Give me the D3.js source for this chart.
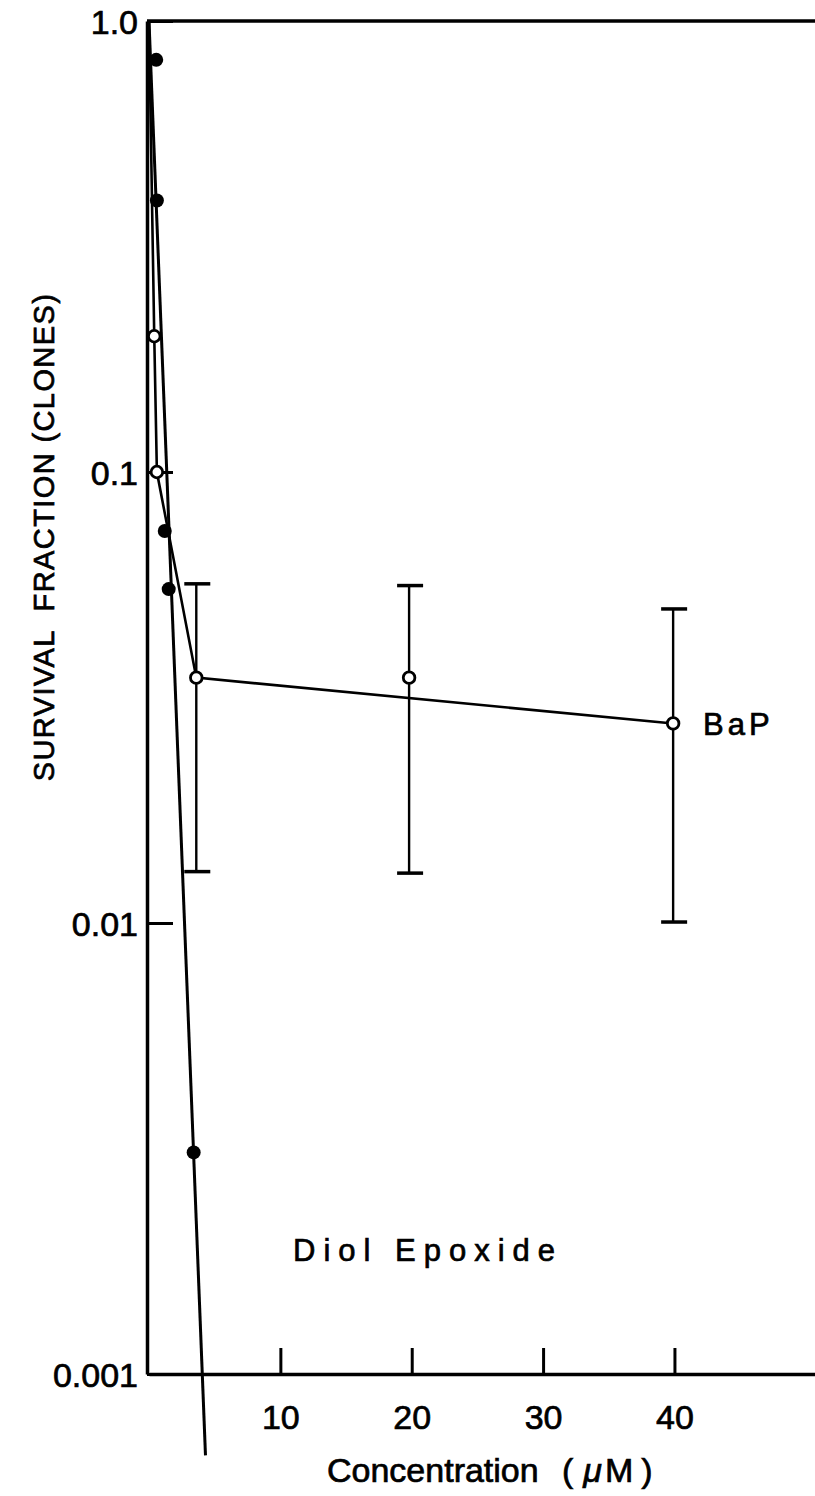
<!DOCTYPE html>
<html>
<head>
<meta charset="utf-8">
<script src="https://cdn.jsdelivr.net/npm/d3@7"></script>
<style>
  body { margin: 0; background: #fff; }
  text { font-family: "Liberation Sans", Arial, sans-serif; fill: #000; stroke: #000; stroke-width: 0.7; }
</style>
</head>
<body>
<div id="container"></div>
<script>
/* CONSTANTS AND GLOBALS */
const width = 815,
  height = 1496;

// Diol epoxide (filled circles)
const diolConc = [0.55, 0.6, 1.2, 1.5, 3.4];
const diolSurv = [0.82, 0.40, 0.074, 0.055, 0.0031];
// fitted line for diol epoxide (runs below the axis)
const diolFitConc = [0, 4.3];
const diolFitSurv = [1.0, 0.00066];

// BaP (open circles) with error bars
const bapConc = [0.4, 0.6, 3.6, 19.8, 39.9];
const bapSurv = [0.20, 0.10, 0.035, 0.035, 0.0277];
const bapHi = [null, null, 0.0565, 0.056, 0.0497];
const bapLo = [null, null, 0.013, 0.0129, 0.01005];
// connecting line (the 20 uM point sits off the line)
const bapLineConc = [0, 0.4, 0.6, 3.6, 39.9];
const bapLineSurv = [1.0, 0.20, 0.10, 0.035, 0.0277];

const xTicks = [10, 20, 30, 40];
const yTicks = [0.001, 0.01, 0.1, 1];
const yTickLabels = ["0.001", "0.01", "0.1", "1.0"];

/* SCALES */
const xScale = d3.scaleLinear()
  .domain([0, 50.7])
  .range([149, 815]);

const yScale = d3.scaleLog()
  .domain([0.001, 1])
  .range([1374, 21]);

/* HTML ELEMENTS */
const svg = d3.select("#container")
  .append("svg")
  .attr("width", width)
  .attr("height", height);

// top frame line
svg.append("line")
  .attr("x1", xScale(0) - 2).attr("x2", width)
  .attr("y1", yScale(1)).attr("y2", yScale(1))
  .attr("stroke", "#000").attr("stroke-width", 3.5);

const xAxis = d3.axisBottom(xScale)
  .tickValues(xTicks)
  .tickSizeInner(-26)
  .tickSizeOuter(0)
  .tickPadding(31)
  .tickFormat(d3.format("d"));

const yAxis = d3.axisLeft(yScale)
  .tickValues(yTicks)
  .tickSizeInner(-26)
  .tickSizeOuter(0)
  .tickPadding(9)
  .tickFormat((d, i) => yTickLabels[i]);

const gx = svg.append("g")
  .attr("transform", `translate(0,${yScale(0.001)})`)
  .call(xAxis);

const gy = svg.append("g")
  .attr("transform", `translate(${xScale(0) - 2},0)`)
  .call(yAxis);

[gx, gy].forEach(g => {
  g.select(".domain").attr("stroke", "#000").attr("stroke-width", 3.5);
  g.selectAll(".tick line").attr("stroke", "#000").attr("stroke-width", 3);
  g.selectAll(".tick text")
    .attr("font-size", 34)
    .attr("font-family", "Liberation Sans, Arial, sans-serif")
    .attr("fill", "#000");
});
gy.selectAll(".tick text").attr("dy", "0.36em");

/* LINES */
const line = d3.line()
  .x(d => xScale(d[0]))
  .y(d => yScale(d[1]));

svg.append("path")
  .datum(diolFitConc.map((c, i) => [c, diolFitSurv[i]]))
  .attr("d", line)
  .attr("fill", "none")
  .attr("stroke", "#000")
  .attr("stroke-width", 3);

svg.append("path")
  .datum(bapLineConc.map((c, i) => [c, bapLineSurv[i]]))
  .attr("d", line)
  .attr("fill", "none")
  .attr("stroke", "#000")
  .attr("stroke-width", 2.6);

/* ERROR BARS */
const bars = bapConc.map((c, i) => ({ c, hi: bapHi[i], lo: bapLo[i] }))
  .filter(d => d.hi !== null);

const eb = svg.selectAll("g.err")
  .data(bars)
  .join("g")
  .attr("class", "err");

eb.append("line")
  .attr("x1", d => xScale(d.c)).attr("x2", d => xScale(d.c))
  .attr("y1", d => yScale(d.hi)).attr("y2", d => yScale(d.lo))
  .attr("stroke", "#000").attr("stroke-width", 2.4);

eb.selectAll("line.cap")
  .data(d => [{ c: d.c, v: d.hi }, { c: d.c, v: d.lo }])
  .join("line")
  .attr("class", "cap")
  .attr("x1", d => xScale(d.c) - 12).attr("x2", d => xScale(d.c) + 14)
  .attr("y1", d => yScale(d.v)).attr("y2", d => yScale(d.v))
  .attr("stroke", "#000").attr("stroke-width", 3.5);

/* POINTS */
svg.selectAll("circle.diol")
  .data(diolConc.map((c, i) => [c, diolSurv[i]]))
  .join("circle")
  .attr("class", "diol")
  .attr("cx", d => xScale(d[0]))
  .attr("cy", d => yScale(d[1]))
  .attr("r", 7)
  .attr("fill", "#000");

svg.selectAll("circle.bap")
  .data(bapConc.map((c, i) => [c, bapSurv[i]]))
  .join("circle")
  .attr("class", "bap")
  .attr("cx", d => xScale(d[0]))
  .attr("cy", d => yScale(d[1]))
  .attr("r", 5.8)
  .attr("fill", "#fff")
  .attr("stroke", "#000")
  .attr("stroke-width", 2.8);

/* LABELS */
svg.append("text")
  .attr("x", 703).attr("y", yScale(0.0277) + 12)
  .attr("font-size", 31)
  .attr("letter-spacing", 4)
  .text("BaP");

svg.append("text")
  .attr("x", 293).attr("y", 1261)
  .attr("font-size", 31)
  .attr("letter-spacing", 8)
  .text("Diol Epoxide");

svg.append("text")
  .attr("transform", "translate(54,537) rotate(-90)")
  .attr("text-anchor", "middle")
  .attr("font-size", 29)
  .attr("letter-spacing", 1.4)
  .style("white-space", "pre")
  .text("SURVIVAL  FRACTION (CLONES)");

const xl = svg.append("text")
  .attr("x", 327).attr("y", 1482)
  .attr("font-size", 34);
xl.append("tspan").text("Concentration");
xl.append("tspan").attr("x", 562).attr("letter-spacing", 10).text("(");
xl.append("tspan").attr("font-style", "italic").attr("letter-spacing", 3).text("μ");
xl.append("tspan").attr("letter-spacing", 8).text("M)");
</script>
</body>
</html>
